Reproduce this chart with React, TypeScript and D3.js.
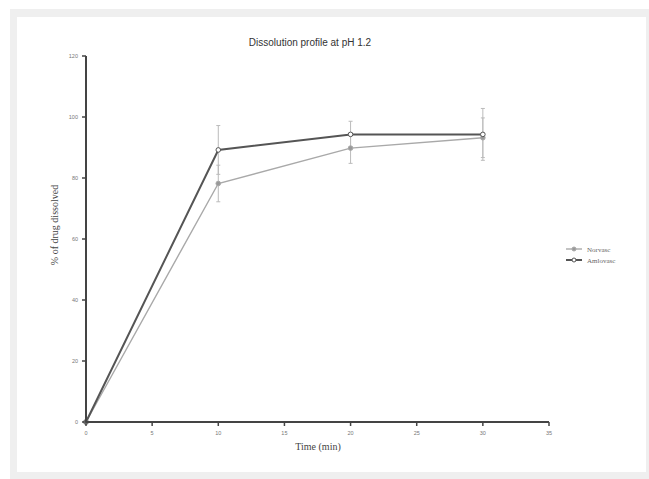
import React from "react";
import * as d3 from "d3";

const times = [0, 10, 20, 30];
const norvasc = [0, 78.2, 89.8, 93.2];
const norvascErr = [0, 6, 5, 6.5];
const amlovasc = [0, 89.2, 94.3, 94.3];
const amlovascErr = [0, 8, 4.3, 8.5];
const xTicks = [0, 5, 10, 15, 20, 25, 30, 35];
const yTicks = [0, 20, 40, 60, 80, 100, 120];
const seriesNames = ["Norvasc", "Amlovasc"];

export default function App() {
  const W = 649, H = 479;
  const x = d3.scaleLinear().domain([0, 35]).range([86, 549]);
  const y = d3.scaleLinear().domain([0, 120]).range([422, 56]);
  const line = d3.line<number>().x((_, i) => x(times[i])).y((d) => y(d));
  const series = [
    { name: seriesNames[0], vals: norvasc, err: norvascErr, color: "#a9a9a9", w: 1.4, fill: "#999" },
    { name: seriesNames[1], vals: amlovasc, err: amlovascErr, color: "#555", w: 2, fill: "#fff" },
  ];
  return (
    <svg width={W} height={H} style={{ position: "absolute", left: 0, top: 0 }}>
      <rect x={0} y={0} width={W} height={H} fill="#fff" />
      <rect x={10} y={9} width={W - 10} height={H - 9} fill="#efefef" />
      <rect x={17} y={17} width={629} height={455} fill="#fff" />
      <text x={310} y={46} textAnchor="middle" fontFamily="'Liberation Sans Narrow', 'Liberation Sans', sans-serif" fontSize={10} fill="#333">
        Dissolution profile at pH 1.2
      </text>
      {/* error bars */}
      {series.map((s) =>
        s.vals.map((v, i) =>
          s.err[i] > 0 ? (
            <g key={s.name + i} stroke="#bbb" strokeWidth={1}>
              <line x1={x(times[i])} x2={x(times[i])} y1={y(v - s.err[i])} y2={y(v + s.err[i])} />
              <line x1={x(times[i]) - 2} x2={x(times[i]) + 2} y1={y(v - s.err[i])} y2={y(v - s.err[i])} />
              <line x1={x(times[i]) - 2} x2={x(times[i]) + 2} y1={y(v + s.err[i])} y2={y(v + s.err[i])} />
            </g>
          ) : null
        )
      )}
      {series.map((s) => (
        <g key={s.name}>
          <path d={line(s.vals) || ""} fill="none" stroke={s.color} strokeWidth={s.w} />
          {s.vals.map((v, i) => (
            <circle key={i} cx={x(times[i])} cy={y(v)} r={2.3} fill={s.fill} stroke={s.color} strokeWidth={1} />
          ))}
        </g>
      ))}
      {/* axes */}
      <line x1={x(0)} x2={x(0)} y1={y(0)} y2={y(120)} stroke="#444" strokeWidth={2} />
      <line x1={x(0)} x2={x(35)} y1={y(0)} y2={y(0)} stroke="#444" strokeWidth={2} />
      {yTicks.map((t) => (
        <g key={"y" + t}>
          <line x1={x(0) - 4} x2={x(0)} y1={y(t)} y2={y(t)} stroke="#444" strokeWidth={1.5} />
          <text x={x(0) - 8} y={y(t) + 2} textAnchor="end" fontSize={5.5} fontFamily="'Liberation Sans', sans-serif" fill="#777">{t}</text>
        </g>
      ))}
      {xTicks.map((t) => (
        <g key={"x" + t}>
          <line x1={x(t)} x2={x(t)} y1={y(0)} y2={y(0) + 4} stroke="#444" strokeWidth={1.5} />
          <text x={x(t)} y={y(0) + 13} textAnchor="middle" fontSize={5.5} fontFamily="'Liberation Sans', sans-serif" fill="#777">{t}</text>
        </g>
      ))}
      <text x={318} y={450} textAnchor="middle" fontSize={10} fontFamily="'Liberation Serif', serif" fill="#444">Time (min)</text>
      <text transform={`translate(58,225) rotate(-90)`} textAnchor="middle" fontSize={10} fontFamily="'Liberation Serif', serif" fill="#444">% of drug dissolved</text>
      {/* legend */}
      {series.map((s, i) => (
        <g key={"lg" + i}>
          <line x1={566} x2={582} y1={249 + i * 11} y2={249 + i * 11} stroke={s.color} strokeWidth={s.w} />
          <circle cx={574} cy={249 + i * 11} r={2} fill={s.fill} stroke={s.color} strokeWidth={1} />
          <text x={587} y={251.5 + i * 11} fontSize={7} fontFamily="'Liberation Serif', serif" fill="#666">{s.name}</text>
        </g>
      ))}
    </svg>
  );
}
